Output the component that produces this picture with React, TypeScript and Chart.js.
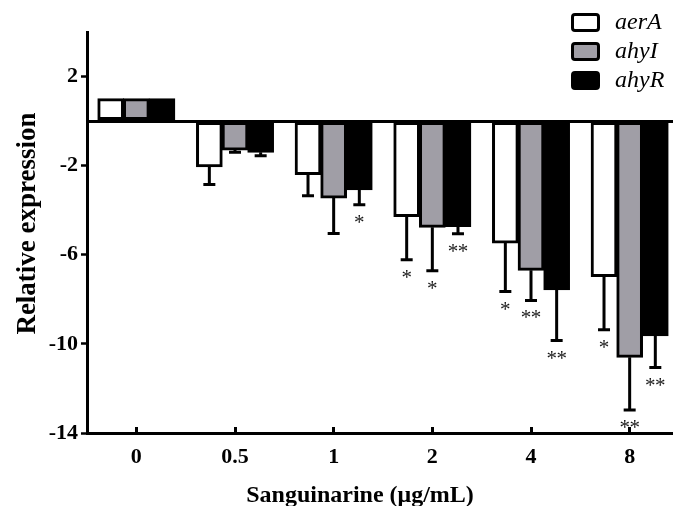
import React, { useEffect, useRef } from 'react';
import { Chart, registerables } from 'chart.js';

Chart.register(...registerables);

const categories = ['0', '0.5', '1', '2', '4', '8'];
const seriesNames = ['aerA', 'ahyI', 'ahyR'];
const seriesColors = ['#ffffff', '#a09ea6', '#000000'];
const aerA = [1.0, -2.05, -2.4, -4.28, -5.47, -6.97];
const ahyI = [1.0, -1.3, -3.45, -4.76, -6.7, -10.6];
const ahyR = [1.0, -1.4, -3.08, -4.73, -7.57, -9.64];
const aerAErr = [0, 0.8, 0.95, 1.94, 2.18, 2.4];
const ahyIErr = [0, 0.1, 1.6, 1.96, 1.35, 2.37];
const ahyRErr = [0, 0.15, 0.67, 0.33, 2.28, 1.42];
const aerAStars = ['', '', '', '*', '*', '*'];
const ahyIStars = ['', '', '', '*', '**', '**'];
const ahyRStars = ['', '', '*', '**', '**', '**'];
const yTickValues = [-14, -10, -6, -2, 0, 2];
const yMin = -14;
const yMax = 4;
const xTitle = 'Sanguinarine (μg/mL)';
const yTitle = 'Relative expression';

const SERIF = '"Liberation Serif", "Times New Roman", serif';

const errorPlugin = {
  id: 'errorBarsStars',
  afterDatasetsDraw(chart: any) {
    const ctx = chart.ctx;
    const ys = chart.scales.y;
    chart.data.datasets.forEach((ds: any, di: number) => {
      const meta = chart.getDatasetMeta(di);
      meta.data.forEach((bar: any, i: number) => {
        const v = ds.data[i];
        const e = ds.errors[i];
        let yEnd = bar.y;
        if (e > 0) {
          const end = v < 0 ? v - e : v + e;
          yEnd = ys.getPixelForValue(end);
          ctx.save();
          ctx.strokeStyle = '#000';
          ctx.lineWidth = 3;
          ctx.lineCap = 'butt';
          ctx.beginPath();
          ctx.moveTo(bar.x, bar.y);
          ctx.lineTo(bar.x, yEnd);
          ctx.moveTo(bar.x - 6, yEnd);
          ctx.lineTo(bar.x + 6, yEnd);
          ctx.stroke();
          ctx.restore();
        }
        const s: string = ds.stars[i];
        if (s) {
          ctx.save();
          ctx.fillStyle = '#1a1a1a';
          ctx.font = '21px ' + SERIF;
          ctx.textAlign = 'center';
          ctx.textBaseline = 'alphabetic';
          const m = ctx.measureText('*');
          const target = yEnd + 14;
          const base = target + (m.actualBoundingBoxAscent - m.actualBoundingBoxDescent) / 2;
          const n = s.length;
          for (let k = 0; k < n; k++) {
            const off = n === 1 ? 0 : (k - (n - 1) / 2) * 10;
            ctx.fillText('*', bar.x + off, base);
          }
          ctx.restore();
        }
      });
    });
  },
};

const decorPlugin = {
  id: 'legendTitles',
  afterDraw(chart: any) {
    const ctx = chart.ctx;
    const boxTops = [13, 42, 71];
    chart.data.datasets.forEach((ds: any, i: number) => {
      ctx.save();
      ctx.fillStyle = ds.backgroundColor;
      ctx.strokeStyle = '#000';
      ctx.lineWidth = 3;
      ctx.beginPath();
      ctx.roundRect(572.5, boxTops[i] + 1.5, 26, 16, 2.5);
      ctx.fill();
      ctx.stroke();
      ctx.fillStyle = '#000';
      ctx.font = 'italic 24px ' + SERIF;
      ctx.textAlign = 'left';
      ctx.textBaseline = 'middle';
      ctx.fillText(ds.label, 615, boxTops[i] + 10);
      ctx.restore();
    });
    ctx.save();
    ctx.fillStyle = '#000';
    ctx.font = 'bold 24px ' + SERIF;
    ctx.textAlign = 'center';
    ctx.textBaseline = 'alphabetic';
    ctx.fillText(xTitle, 360, 502);
    ctx.translate(35, 223.5);
    ctx.rotate(-Math.PI / 2);
    ctx.font = 'bold 27px ' + SERIF;
    ctx.fillText(yTitle, 0, 0);
    ctx.restore();
  },
};

export default function App() {
  const ref = useRef<HTMLCanvasElement | null>(null);
  useEffect(() => {
    document.body.style.margin = '0';
    const canvas = ref.current;
    if (!canvas) return;
    const values = [aerA, ahyI, ahyR];
    const errs = [aerAErr, ahyIErr, ahyRErr];
    const stars = [aerAStars, ahyIStars, ahyRStars];
    const chart = new Chart(canvas, {
      type: 'bar',
      data: {
        labels: categories,
        datasets: seriesNames.map((name, i) => ({
          label: name,
          data: values[i],
          errors: errs[i],
          stars: stars[i],
          backgroundColor: seriesColors[i],
          borderColor: '#000',
          borderWidth: 3,
          borderSkipped: false,
          inflateAmount: 0.5,
          categoryPercentage: 0.78,
          barPercentage: 1.0,
        })) as any,
      },
      options: {
        animation: false,
        responsive: false,
        devicePixelRatio: 1,
        categoryPercentage: 0.78,
        barPercentage: 1.0,
        datasets: { bar: { categoryPercentage: 0.78, barPercentage: 1.0 } },
        layout: { padding: { top: 32, right: 11, left: 0, bottom: 0 } },
        plugins: {
          legend: { display: false },
          tooltip: { enabled: false },
        },
        scales: {
          x: {
            offset: true,
            grid: {
              offset: false,
              drawOnChartArea: false,
              tickLength: -6,
              tickWidth: 3,
              tickColor: '#000',
              color: '#000',
            },
            border: { display: true, color: '#000', width: 3 },
            ticks: {
              color: '#000',
              font: { family: SERIF, size: 22, weight: 'bold' },
              padding: 17,
            },
            afterFit: (scale: any) => {
              scale.height = 73;
            },
          },
          y: {
            min: yMin,
            max: yMax,
            afterBuildTicks: (scale: any) => {
              scale.ticks = yTickValues.map((v) => ({ value: v }));
            },
            grid: {
              drawOnChartArea: true,
              color: (c: any) => (c.tick && c.tick.value === 0 ? '#000' : 'rgba(0,0,0,0)'),
              lineWidth: 3,
              tickColor: (c: any) => (c.tick && c.tick.value === 0 ? 'rgba(0,0,0,0)' : '#000'),
              tickLength: 6,
              tickWidth: 2.5,
            },
            border: { display: true, color: '#000', width: 3 },
            ticks: {
              color: '#000',
              font: { family: SERIF, size: 22, weight: 'bold' },
              padding: 3,
              callback: (v: any) => (v === 0 ? '' : String(v)),
            },
            afterFit: (scale: any) => {
              scale.width = 87;
            },
          },
        },
      } as any,
      plugins: [errorPlugin, decorPlugin],
    });
    return () => chart.destroy();
  }, []);
  return (
    <div
      style={{
        position: 'fixed',
        left: 0,
        top: 0,
        width: 673,
        height: 506,
        overflow: 'hidden',
        background: '#fff',
      }}
    >
      <canvas ref={ref} width={690} height={506} style={{ display: 'block', width: 690, height: 506 }} />
    </div>
  );
}
